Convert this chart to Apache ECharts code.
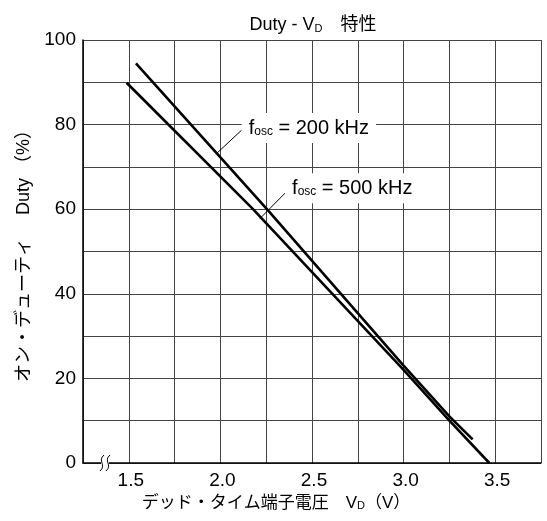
<!DOCTYPE html>
<html>
<head>
<meta charset="utf-8">
<script src="https://cdn.jsdelivr.net/npm/echarts@6/dist/echarts.min.js"></script>
<style>
  html, body { margin: 0; padding: 0; background: #fff; }
  #chart { width: 547px; height: 521px; }
</style>
</head>
<body>
<div id="chart"></div>
<script>
// Dead-time terminal voltage V_D (V) vs on-duty (%) for two oscillator frequencies
var vd200   = [1.539, 2.254, 3.0, 3.25, 3.377];
var duty200 = [94.5, 60, 23, 11, 5.6];
var vd500   = [1.488, 2.178, 3.0, 3.25, 3.468];
var duty500 = [89.9, 60, 22, 10, 0];

var xTickLabels = [1.5, 2.0, 2.5, 3.0, 3.5];
var yTickLabels = [0, 20, 40, 60, 80, 100];

var LATIN = '"Liberation Sans", Arial, sans-serif';
var CJK = '"Liberation Sans", "Noto Sans CJK JP", sans-serif';

function pairs(xs, ys) {
  return xs.map(function (x, i) { return [x, ys[i]]; });
}

function leader(from, to, freq, lift) {
  return {
    silent: true,
    symbol: ['none', 'none'],
    lineStyle: { color: '#000', width: 1, type: 'solid' },
    label: {
      show: true,
      position: 'end',
      distance: 0,
      align: 'left',
      verticalAlign: 'middle',
      offset: [0, -lift],
      formatter: '{f|f}{s|osc}{f| = ' + freq + ' kHz}',
      backgroundColor: '#fff',
      padding: [5, 7, 5, 7],
      rich: {
        f: { fontFamily: LATIN, fontSize: 20, color: '#000' },
        s: { fontFamily: LATIN, fontSize: 12, color: '#000', verticalAlign: 'bottom', padding: [6, 0, 0, 0] }
      }
    },
    data: [[{ coord: from }, { coord: to }]]
  };
}

var chart = echarts.init(document.getElementById('chart'), null, { renderer: 'canvas' });

var option = {
  animation: false,
  backgroundColor: '#fff',
  title: {
    text: 'Duty - V{sub|D}　特性',
    left: 308,
    textAlign: 'center',
    top: 11,
    textStyle: {
      fontFamily: CJK,
      fontSize: 18,
      fontWeight: 'normal',
      color: '#000',
      rich: {
        sub: { fontFamily: LATIN, fontSize: 11, color: '#000', verticalAlign: 'bottom', padding: [6, 0, 0, 0] }
      }
    }
  },
  grid: { left: 83, top: 40, right: 6, bottom: 58, containLabel: false },
  xAxis: {
    type: 'value',
    min: 1.25,
    max: 3.75,
    interval: 0.25,
    name: 'デッド・タイム端子電圧　V{sub|D}（V）',
    nameLocation: 'middle',
    nameGap: 25,
    nameTextStyle: {
      fontFamily: CJK,
      fontSize: 17,
      color: '#000',
      padding: [0, 72, 0, 0],
      rich: {
        sub: { fontFamily: LATIN, fontSize: 11, color: '#000', verticalAlign: 'bottom', padding: [5, 0, 0, 0] }
      }
    },
    axisLine: { show: true, lineStyle: { color: '#000', width: 1.5 } },
    axisTick: { show: false },
    axisLabel: {
      fontFamily: LATIN,
      fontSize: 19,
      color: '#000',
      margin: 8,
      padding: [0, 0, 0, 4],
      formatter: function (v) {
        for (var i = 0; i < xTickLabels.length; i++) {
          if (Math.abs(v - xTickLabels[i]) < 1e-6) return xTickLabels[i].toFixed(1);
        }
        return '';
      }
    },
    splitLine: { show: true, lineStyle: { color: '#444', width: 1 } }
  },
  yAxis: {
    type: 'value',
    min: 0,
    max: 100,
    interval: 10,
    name: 'オン・デューティ　 Duty （%）',
    nameLocation: 'middle',
    nameGap: 50,
    nameRotate: 90,
    nameTextStyle: { fontFamily: CJK, fontSize: 18, color: '#000' },
    axisLine: { show: true, lineStyle: { color: '#000', width: 1.5 } },
    axisTick: { show: false },
    axisLabel: {
      fontFamily: LATIN,
      fontSize: 19,
      color: '#000',
      margin: 7,
      formatter: function (v) {
        return yTickLabels.indexOf(v) >= 0 ? String(v) : '';
      }
    },
    splitLine: { show: true, lineStyle: { color: '#444', width: 1 } }
  },
  series: [
    {
      name: 'fosc = 200 kHz',
      type: 'line',
      data: pairs(vd200, duty200),
      symbol: 'none',
      lineStyle: { color: '#000', width: 2.6 },
      z: 5,
      markLine: leader([1.98, 73.2], [2.116, 78.7], 200, 2)
    },
    {
      name: 'fosc = 500 kHz',
      type: 'line',
      data: pairs(vd500, duty500),
      symbol: 'none',
      lineStyle: { color: '#000', width: 2.6 },
      z: 5,
      markLine: leader([2.216, 57.8], [2.353, 63.8], 500, 5)
    }
  ]
};

chart.setOption(option);

// Axis break mark near the origin of the voltage axis
var bp = chart.convertToPixel({ gridIndex: 0 }, [1.37, 0]);
function wave(x0, y0) {
  return {
    type: 'bezierCurve',
    shape: { x1: x0 + 2, y1: y0 - 8, cpx1: x0 - 5, cpy1: y0 - 2, cpx2: x0 + 5, cpy2: y0 + 2, x2: x0 - 2, y2: y0 + 8 },
    style: { stroke: '#000', lineWidth: 1, fill: null },
    z: 10
  };
}
chart.setOption({
  graphic: [
    { type: 'rect', shape: { x: bp[0] - 4, y: bp[1] - 2, width: 8, height: 4 }, style: { fill: '#fff' }, z: 9 },
    wave(bp[0] - 3, bp[1]),
    wave(bp[0] + 3, bp[1])
  ]
});
</script>
</body>
</html>
